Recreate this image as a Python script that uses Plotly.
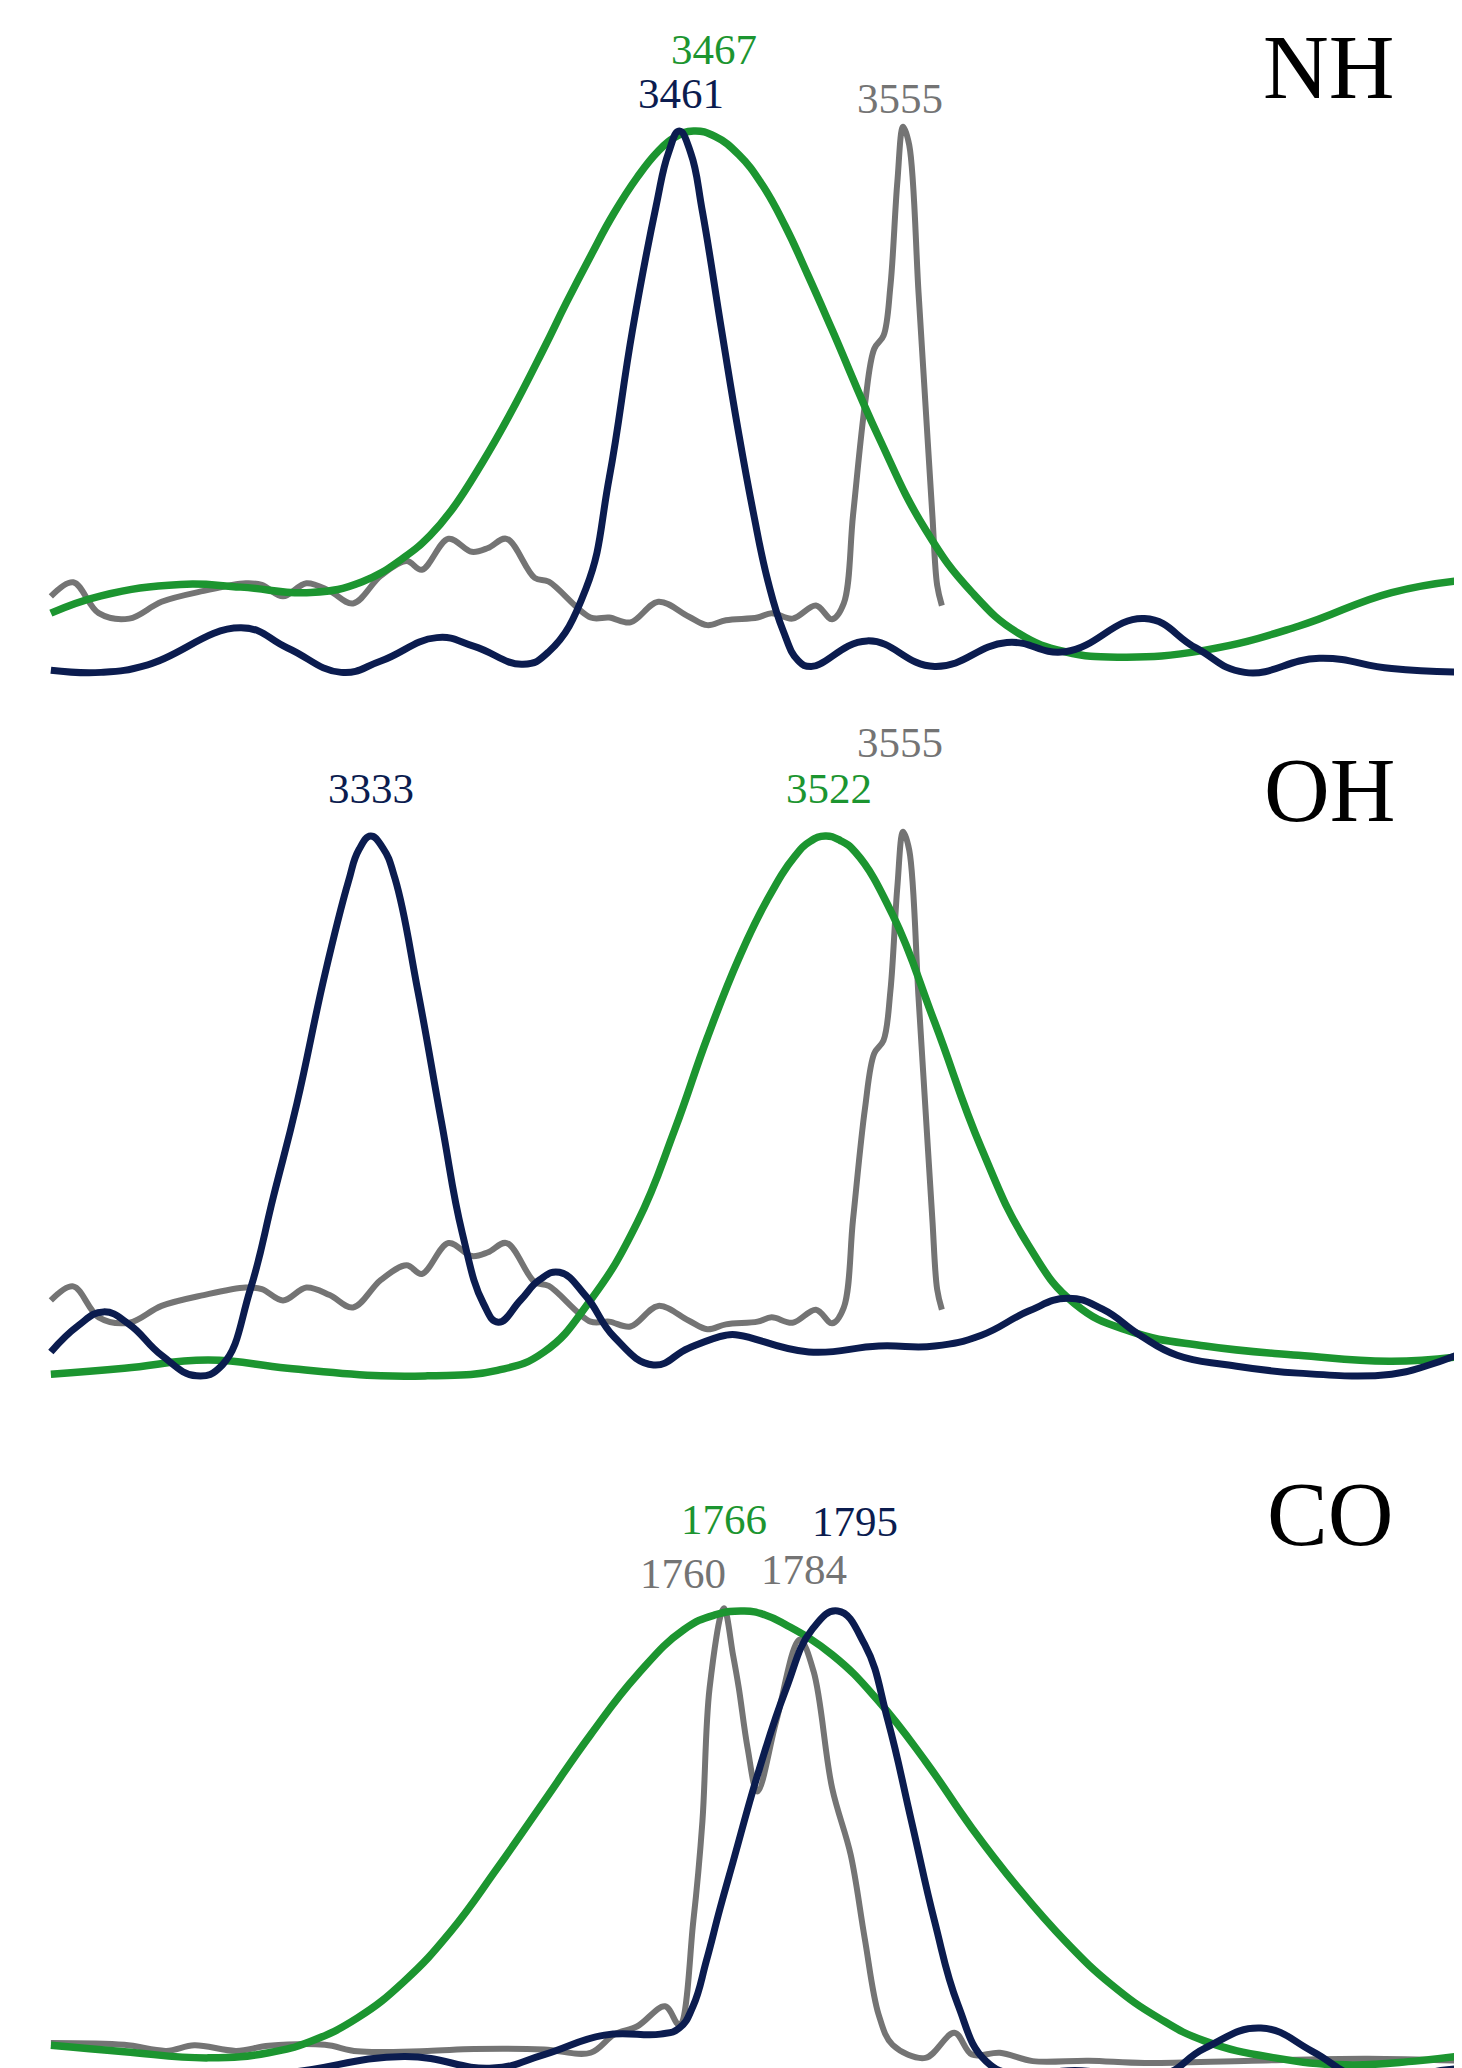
import plotly.graph_objects as go

# ---------------- data (wavenumber, normalised intensity) ----------------
# NH panel
nh_navy_x = [3197.1, 3218.2, 3237.8, 3277.0, 3296.5, 3319.0, 3335.7, 3359.2, 3374.9, 3395.4,
             3406.2, 3421.8, 3431.6, 3441.4, 3451.2, 3456.5, 3461.0, 3465.8, 3470.8, 3478.9,
             3485.7, 3492.0, 3498.3, 3504.6, 3510.9, 3516.4, 3539.9, 3568.3, 3598.6, 3623.1,
             3656.4, 3678.0, 3698.5, 3729.8, 3760.2, 3793.1]
nh_navy_y = [0.007, 0.003, 0.017, 0.085, 0.048, 0.003, 0.024, 0.067, 0.051, 0.018,
             0.041, 0.157, 0.361, 0.634, 0.860, 0.960, 1.000, 0.960, 0.850, 0.630,
             0.450, 0.300, 0.170, 0.080, 0.025, 0.014, 0.061, 0.014, 0.058, 0.041,
             0.102, 0.048, 0.003, 0.029, 0.010, 0.003]

nh_green_x = [3197.1, 3218.2, 3251.5, 3276.9, 3306.3, 3327.9, 3345.5, 3356.3, 3365.1, 3378.4,
              3389.5, 3404.2, 3413.5, 3423.8, 3433.5, 3443.4, 3452.0, 3459.0, 3467.0, 3476.0,
              3486.1, 3496.0, 3505.6, 3515.0, 3525.2, 3544.8, 3564.4, 3584.0, 3603.5, 3623.1,
              3646.6, 3681.9, 3721.0, 3760.2, 3793.1]
nh_green_y = [0.112, 0.144, 0.165, 0.160, 0.150, 0.170, 0.215, 0.255, 0.300, 0.390,
              0.475, 0.600, 0.683, 0.770, 0.848, 0.915, 0.962, 0.988, 1.000, 0.990,
              0.956, 0.900, 0.824, 0.735, 0.634, 0.436, 0.266, 0.150, 0.075, 0.041,
              0.031, 0.044, 0.088, 0.150, 0.174]

# reference (gray) spectrum, shown in NH and OH panels
ref_x = [3197.1, 3206.5, 3217.2, 3230.0, 3243.6, 3261.3, 3278.9, 3285.7, 3294.6, 3304.4,
         3314.2, 3324.0, 3335.7, 3346.5, 3352.9, 3364.1, 3373.9, 3380.7, 3388.5, 3400.3,
         3406.2, 3423.8, 3431.6, 3440.5, 3452.2, 3464.9, 3472.8, 3480.6, 3493.9, 3499.8,
         3508.6, 3518.4, 3525.2, 3530.1, 3534.0, 3539.0, 3542.9, 3546.8, 3549.7, 3552.6,
         3555.0, 3557.6, 3561.5, 3564.4, 3567.3, 3569.3, 3571.3]
ref_y = [0.143, 0.169, 0.112, 0.102, 0.133, 0.153, 0.167, 0.164, 0.143, 0.167,
         0.153, 0.130, 0.181, 0.208, 0.192, 0.249, 0.225, 0.232, 0.249, 0.177,
         0.170, 0.104, 0.104, 0.095, 0.133, 0.106, 0.090, 0.099, 0.104, 0.112,
         0.102, 0.126, 0.101, 0.130, 0.293, 0.497, 0.599, 0.623, 0.715, 0.906,
         1.008, 0.974, 0.702, 0.497, 0.293, 0.164, 0.126]

# OH panel
oh_navy_x = [3197.1, 3208.4, 3219.2, 3230.0, 3243.6, 3258.3, 3269.1, 3280.9, 3290.6, 3300.4,
             3312.2, 3322.0, 3326.5, 3331.4, 3336.5, 3341.6, 3351.4, 3361.2, 3369.9, 3378.8,
             3385.0, 3394.4, 3402.3, 3410.7, 3421.8, 3433.6, 3450.2, 3464.9, 3480.6, 3486.1,
             3515.4, 3544.8, 3568.3, 3587.9, 3607.5, 3624.1, 3638.8, 3654.5, 3670.1, 3691.7,
             3721.0, 3760.2, 3775.9, 3793.1]
oh_navy_y = [0.048, 0.096, 0.122, 0.099, 0.042, 0.004, 0.024, 0.164, 0.335, 0.506,
             0.745, 0.915, 0.975, 1.000, 0.978, 0.922, 0.710, 0.471, 0.267, 0.137,
             0.103, 0.144, 0.181, 0.195, 0.151, 0.076, 0.024, 0.055, 0.079, 0.079,
             0.048, 0.059, 0.059, 0.079, 0.123, 0.147, 0.127, 0.079, 0.042, 0.024,
             0.009, 0.007, 0.024, 0.052]

oh_green_x = [3197.1, 3228.0, 3263.3, 3296.5, 3335.7, 3355.3, 3384.6, 3404.2, 3423.8, 3443.4,
              3459.1, 3472.8, 3486.1, 3497.8, 3509.6, 3516.0, 3522.3, 3528.5, 3535.0, 3550.7,
              3568.3, 3587.9, 3607.5, 3627.1, 3650.5, 3681.9, 3721.0, 3760.2, 3793.1]
oh_green_y = [0.007, 0.018, 0.033, 0.018, 0.004, 0.004, 0.014, 0.048, 0.144, 0.287,
              0.458, 0.628, 0.775, 0.881, 0.963, 0.990, 1.000, 0.992, 0.970, 0.854,
              0.656, 0.424, 0.246, 0.137, 0.086, 0.059, 0.042, 0.031, 0.042]

# CO panel
co_navy_x = [1553.0, 1576.7, 1601.4, 1625.8, 1661.7, 1688.9, 1704.7, 1723.3, 1740.5, 1746.3,
             1750.5, 1754.7, 1758.8, 1762.8, 1770.9, 1779.0, 1787.1, 1795.0, 1803.3, 1810.5,
             1817.7, 1824.8, 1832.0, 1840.6, 1850.6, 1867.9, 1893.7, 1908.0, 1925.2, 1941.0,
             1953.9, 1967.3, 1976.9, 1989.5]
co_navy_y = [-0.037, -0.022, 0.000, 0.007, 0.042, 0.017, 0.046, 0.088, 0.090, 0.103,
             0.150, 0.250, 0.360, 0.460, 0.660, 0.830, 0.960, 1.000, 0.928, 0.763,
             0.548, 0.333, 0.153, 0.032, 0.003, 0.012, -0.001, 0.060, 0.103, 0.053,
             -0.001, -0.020, 0.007, 0.017]

co_green_x = [1553.0, 1575.6, 1601.4, 1620.0, 1633.0, 1647.3, 1661.7, 1676.0, 1690.3, 1704.7,
              1719.0, 1733.4, 1747.7, 1757.0, 1766.3, 1772.5, 1778.9, 1793.3, 1807.6, 1822.0,
              1836.3, 1850.6, 1865.0, 1879.3, 1893.7, 1908.0, 1929.5, 1951.0, 1972.6, 1989.5]
co_green_y = [0.066, 0.052, 0.039, 0.050, 0.075, 0.125, 0.204, 0.311, 0.447, 0.591,
              0.734, 0.863, 0.960, 0.991, 1.000, 0.992, 0.971, 0.906, 0.806, 0.677,
              0.533, 0.404, 0.290, 0.196, 0.125, 0.075, 0.039, 0.024, 0.032, 0.046]

co_gray_x = [1553.0, 1575.6, 1588.5, 1597.1, 1610.0, 1620.0, 1637.3, 1647.3, 1668.8, 1683.2,
             1704.7, 1719.0, 1726.2, 1733.4, 1741.9, 1746.3, 1750.6, 1753.4, 1755.6, 1760.0,
             1762.8, 1764.6, 1767.3, 1770.3, 1776.1, 1783.3, 1787.6, 1793.3, 1799.0, 1803.3,
             1807.6, 1811.9, 1822.0, 1830.9, 1836.3, 1844.9, 1855.0, 1872.2, 1889.4, 1922.4,
             1958.2, 1989.5]
co_gray_y = [0.071, 0.067, 0.054, 0.066, 0.054, 0.065, 0.067, 0.053, 0.054, 0.058,
             0.057, 0.050, 0.089, 0.107, 0.150, 0.110, 0.333, 0.548, 0.834, 1.006,
             0.906, 0.834, 0.705, 0.612, 0.763, 0.938, 0.870, 0.619, 0.476, 0.297,
             0.132, 0.067, 0.039, 0.093, 0.046, 0.050, 0.032, 0.033, 0.028, 0.033,
             0.037, 0.032]

# peak labels: (text, colour key, x value, peak height)
nh_labels = [("3467", "green", 3467, 1.0), ("3461", "navy", 3461, 1.0), ("3555", "gray", 3555, 1.0)]
oh_labels = [("3555", "gray", 3555, 1.0), ("3333", "navy", 3333, 1.0), ("3522", "green", 3522, 1.0)]
co_labels = [("1766", "green", 1766, 1.0), ("1795", "navy", 1795, 1.0),
             ("1760", "gray", 1760, 1.0), ("1784", "gray", 1784, 0.938)]
panel_names = ["NH", "OH", "CO"]

# ---------------- styling ----------------
COL = {"green": "#1c9530", "navy": "#0b1c4f", "gray": "#747474"}
WID = {"green": 7.5, "navy": 7.0, "gray": 6.0}
SMOOTH = {"green": 1.3, "navy": 1.3, "gray": 1.0}
W, H = 1462, 2068
FONT = "Liberation Serif, Times New Roman, serif"

# pixel band of each panel, pixel of zero intensity, pixels per unit intensity
bands = [(0, 700, 666, 543), (700, 1400, 1370, 542), (1400, 2068, 2068, 465)]
xranges = [[3179.1, 3793.1], [3179.1, 3793.1], [1539.8, 1989.5]]

# label offsets (px) relative to peak anchors
shifts = {
    0: [(20, 82), (2, 38), (-3, 33)],
    1: [(-3, 94), (-3, 48), (5, 48)],
    2: [(-19, 92), (17, 90), (-41, 38), (2, 70)],
}
name_pos = [(1320, 60), (1321, 783), (1322, 1506)]

fig = go.Figure()

panels = [
    [("gray", ref_x, ref_y), ("green", nh_green_x, nh_green_y), ("navy", nh_navy_x, nh_navy_y)],
    [("gray", ref_x, ref_y), ("green", oh_green_x, oh_green_y), ("navy", oh_navy_x, oh_navy_y)],
    [("gray", co_gray_x, co_gray_y), ("green", co_green_x, co_green_y), ("navy", co_navy_x, co_navy_y)],
]
all_labels = [nh_labels, oh_labels, co_labels]

layout_axes = {}
annotations = []
for i, (series, labels) in enumerate(zip(panels, all_labels)):
    n = "" if i == 0 else str(i + 1)
    top, bot, zero, scale = bands[i]
    for key, xs, ys in series:
        fig.add_trace(go.Scatter(
            x=xs, y=ys, mode="lines", xaxis="x" + n, yaxis="y" + n,
            line=dict(color=COL[key], width=WID[key], shape="spline", smoothing=SMOOTH[key]),
            hoverinfo="skip", showlegend=False))
    layout_axes["xaxis" + n] = dict(domain=[0, 1], range=xranges[i], anchor="y" + n,
                                    visible=False, showgrid=False, zeroline=False)
    layout_axes["yaxis" + n] = dict(domain=[1 - bot / H, 1 - top / H],
                                    range=[(zero - bot) / scale, (zero - top) / scale],
                                    anchor="x" + n, visible=False, showgrid=False, zeroline=False)
    for (txt, key, xv, yv), (dx, dy) in zip(labels, shifts[i]):
        annotations.append(dict(
            text=txt, x=xv, y=yv, xref="x" + n, yref="y" + n, showarrow=False,
            xanchor="center", yanchor="middle", xshift=dx, yshift=dy,
            font=dict(family=FONT, size=43, color=COL[key])))
    px, py = name_pos[i]
    annotations.append(dict(
        text=panel_names[i], x=px / W, y=1 - py / H, xref="paper", yref="paper",
        showarrow=False, xanchor="center", yanchor="middle",
        font=dict(family=FONT, size=91, color="black")))

fig.update_layout(
    width=W, height=H, margin=dict(l=0, r=0, t=0, b=0),
    paper_bgcolor="white", plot_bgcolor="white", showlegend=False,
    annotations=annotations, **layout_axes)

fig.write_html("out.html")
